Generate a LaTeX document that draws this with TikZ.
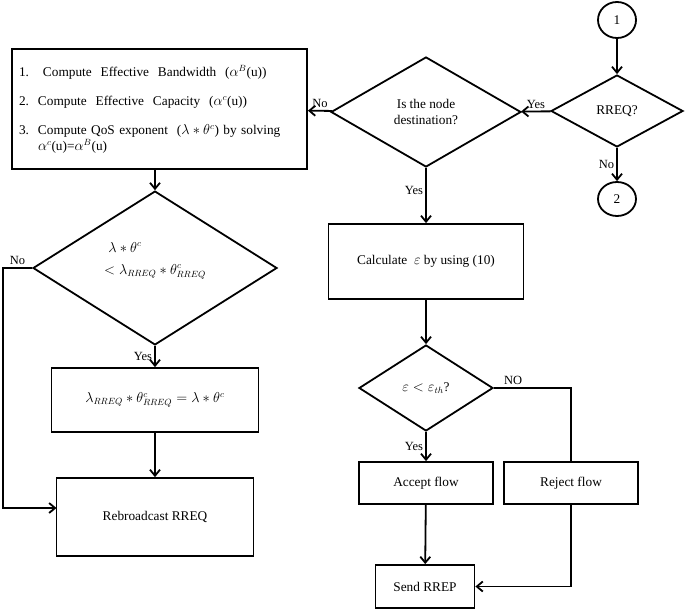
\documentclass[tikz,border=0pt]{standalone}
\usepackage{fontspec}
\setmainfont{Liberation Serif}
\usetikzlibrary{arrows.meta}
\usetikzlibrary{shapes.geometric}
\usetikzlibrary{positioning}

\begin{document}
\begin{tikzpicture}[->,>={Straight Barb[length=6pt,width=10pt]},x=1pt,y=-1pt,line width=1.8pt,
    font=\fontsize{13.3}{16}\selectfont]
  \tikzset{block/.style={draw,rectangle,align=center,-},
           decision/.style={draw,diamond,inner sep=0pt,align=center,-},
           terminal/.style={draw,ellipse,inner sep=0pt,-},
           lbl/.style={font=\fontsize{12.5}{14}\selectfont,inner sep=2pt}}
  \useasboundingbox (0,0) rectangle (685,610);

  % right top: entry and RREQ test
  \node[terminal,minimum width=38,minimum height=36] (one) at (617,20) {1};
  \node[decision,minimum width=132,minimum height=72] (rreq) at (617,111) {RREQ?};
  \node[terminal,minimum width=38,minimum height=34] (two) at (617,199) {2};

  \node[decision,minimum width=190,minimum height=110] (dest) at (426,112) {Is the node\\destination?};

  \node[block,align=left,text width=281,inner xsep=7,minimum height=120] (comp) at (159.5,109)
    {\makebox[24pt][l]{1.}Compute \ Effective \ Bandwidth \ ($\alpha^{B}$(u))\\[13pt]
     \makebox[19pt][l]{2.}Compute \ Effective \ Capacity \ ($\alpha^{c}$(u))\\[13pt]
     \makebox[19pt][l]{3.}Compute QoS exponent \ ($\lambda * \theta^{c}$) by solving\\
     \hspace*{19pt}$\alpha^{c}$(u)=$\alpha^{B}$(u)};

  % left column
  \node[decision,minimum width=244,minimum height=122] (cmp) at (155,268)
    {$\lambda * \theta^{c}$\hspace*{60pt}\\[6pt]$< \lambda_{RREQ} * \theta^{c}_{RREQ}$\\[4pt]\mbox{}};
  \node[block,minimum width=207,minimum height=64] (upd) at (155,400)
    {$\lambda_{RREQ} * \theta^{c}_{RREQ} = \lambda * \theta^{c}$};
  \node[block,minimum width=197,minimum height=78] (rebr) at (155,517) {Rebroadcast RREQ};
  \coordinate (nocorner) at (3,268);
  \coordinate (rebrin) at (56.5,508);

  % right column
  \node[block,minimum width=195,minimum height=75] (calc) at (426,261.5) {Calculate \ $\varepsilon$ by using (10)};
  \node[decision,minimum width=134,minimum height=86] (eps) at (426,388) {$\varepsilon < \varepsilon_{th}$?};
  \node[block,minimum width=134,minimum height=42] (acc) at (426,483) {Accept flow};
  \node[block,minimum width=134,minimum height=42] (rej) at (571,483) {Reject flow};
  \node[block,minimum width=99,minimum height=43] (send) at (425,586.5) {Send RREP};

  \path (one) edge (rreq)
        (rreq) edge node[lbl,above] {Yes} (dest)
        (rreq) edge node[lbl,left] {No} (two)
        (dest) edge node[lbl,above] {No} (comp)
        (dest) edge node[lbl,left,pos=0.4] {Yes} (calc)
        (comp.south -| cmp.north) edge (cmp)
        (cmp) edge node[lbl,left] {Yes} (upd)
        (upd) edge (rebr)
        (calc) edge (eps)
        (eps) edge node[lbl,left] {Yes} (acc)
        (acc) edge (send);

  \draw (cmp.west) -- node[lbl,above] {No} (nocorner) |- (rebrin);
  \draw[-] (eps.east) -- node[lbl,above,pos=0.25] {NO} (eps.east -| rej.north) -- (rej.north);
  \draw (rej.south) |- (send.east);
\end{tikzpicture}
\end{document}
